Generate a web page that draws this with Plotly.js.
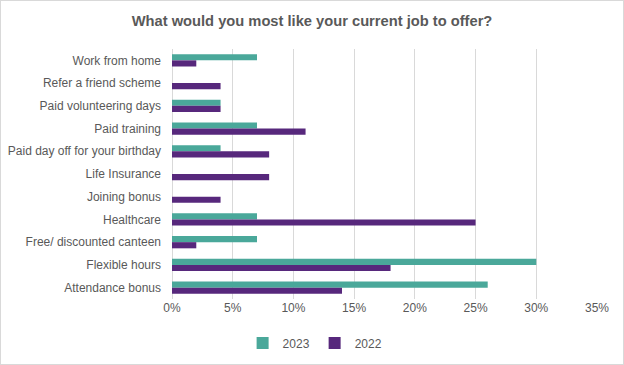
<!DOCTYPE html>
<html>
<head>
<meta charset="utf-8">
<script src="https://cdn.plot.ly/plotly-3.0.1.min.js"></script>
<style>
html,body{margin:0;padding:0;background:#fff;}
#chart{width:622px;height:363px;border:1px solid #d9d9d9;}
</style>
</head>
<body>
<div id="chart"></div>
<script>
const categories = ["Work from home","Refer a friend scheme","Paid volunteering days","Paid training","Paid day off for your birthday","Life Insurance","Joining bonus","Healthcare","Free/ discounted canteen","Flexible hours","Attendance bonus"];
const values2023 = [0.07, 0, 0.04, 0.07, 0.04, 0, 0, 0.07, 0.07, 0.30, 0.26];
const values2022 = [0.02, 0.04, 0.04, 0.11, 0.08, 0.08, 0.04, 0.25, 0.02, 0.18, 0.14];
const xTicks = [0,0.05,0.10,0.15,0.20,0.25,0.30,0.35];

const traces = [
  {type:'bar', orientation:'h', name:'2023', y:categories, x:values2023, marker:{color:'#4aa89a'}},
  {type:'bar', orientation:'h', name:'2022', y:categories, x:values2022, marker:{color:'#57287c'}}
];
const layout = {
  width:622, height:363,
  margin:{l:171, r:26, t:48, b:65, autoexpand:false},
  paper_bgcolor:'#fff', plot_bgcolor:'#fff',
  font:{family:'Liberation Sans, Arial, sans-serif', size:12, color:'#595959'},
  title:{text:'<b>What would you most like your current job to offer?</b>', x:0.5, xanchor:'center', y:0.945, yanchor:'middle', font:{size:14.7, color:'#595959'}},
  barmode:'group', bargap:0.46, bargroupgap:0,
  xaxis:{range:[0,0.35], tickvals:xTicks, tickformat:'.0%', showgrid:true, gridcolor:'#d9d9d9', gridwidth:1, zeroline:true, zerolinecolor:'#d9d9d9', showline:false, ticks:'', fixedrange:true},
  yaxis:{autorange:'reversed', type:'category', showgrid:false, ticks:'', ticklabelstandoff:10, showline:false, fixedrange:true},
  showlegend:true,
  legend:{orientation:'h', x:0.505, xref:'container', xanchor:'center', y:0.058, yref:'container', yanchor:'middle', font:{size:12, color:'#595959'}, itemwidth:30, traceorder:'normal'}
};
Plotly.newPlot('chart', traces, layout, {displayModeBar:false, staticPlot:true});
</script>
</body>
</html>
